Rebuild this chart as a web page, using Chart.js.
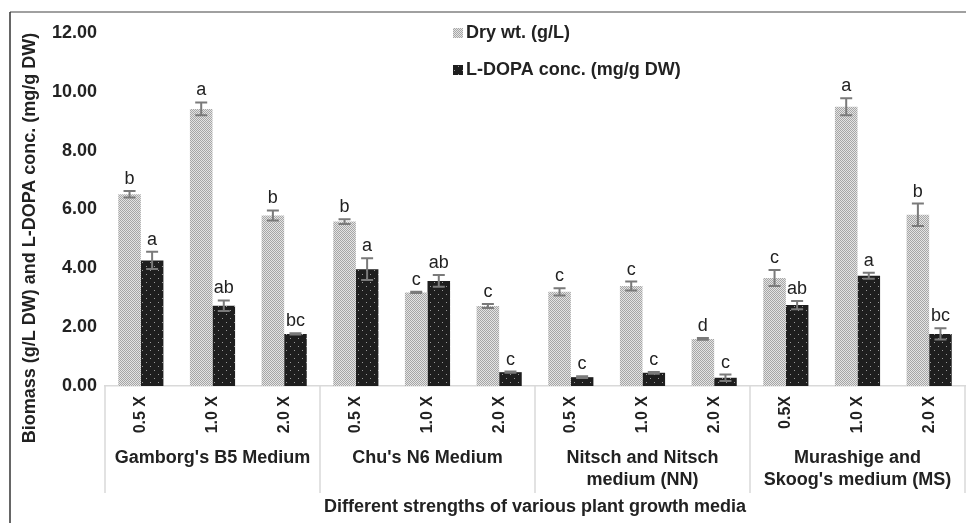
<!DOCTYPE html>
<html>
<head>
<meta charset="utf-8">
<script src="https://cdn.jsdelivr.net/npm/chart.js@4.4.1/dist/chart.umd.min.js"></script>
<style>
  body { margin: 0; background: #fff; }
  canvas { display: block; }
</style>
</head>
<body>
<canvas id="myChart" width="966" height="523"></canvas>
<script>
var strengths = ['0.5 X', '1.0 X', '2.0 X', '0.5 X', '1.0 X', '2.0 X', '0.5 X', '1.0 X', '2.0 X', '0.5X', '1.0 X', '2.0 X'];
var media = [["Gamborg's B5 Medium"], ["Chu's N6 Medium"], ['Nitsch and Nitsch', 'medium (NN)'], ['Murashige and', "Skoog's medium (MS)"]];

var dryWt = [6.52, 9.42, 5.80, 5.59, 3.18, 2.72, 3.20, 3.40, 1.60, 3.67, 9.49, 5.82];
var dryErr = [0.11, 0.22, 0.17, 0.08, 0.02, 0.07, 0.12, 0.15, 0.03, 0.27, 0.29, 0.38];
var dryLetters = ['b', 'a', 'b', 'b', 'c', 'c', 'c', 'c', 'd', 'c', 'a', 'b'];

var ldopa = [4.27, 2.73, 1.77, 3.97, 3.57, 0.47, 0.30, 0.45, 0.28, 2.75, 3.75, 1.77];
var ldopaErr = [0.29, 0.18, 0.02, 0.37, 0.20, 0.02, 0.03, 0.03, 0.11, 0.14, 0.10, 0.19];
var ldopaLetters = ['a', 'ab', 'bc', 'a', 'ab', 'c', 'c', 'c', 'c', 'ab', 'a', 'bc'];

var yTicks = [0, 2, 4, 6, 8, 10, 12];
var yTitle = 'Biomass (g/L DW) and L-DOPA conc. (mg/g DW)';
var xTitle = 'Different strengths of various plant growth media';

var FONT = "'Liberation Sans', Arial, sans-serif";

function dryPattern() {
  var c = document.createElement('canvas');
  c.width = 2; c.height = 2;
  var g = c.getContext('2d');
  g.fillStyle = '#e4e4e4'; g.fillRect(0, 0, 2, 2);
  g.fillStyle = '#a6a6a6'; g.fillRect(0, 0, 1, 1); g.fillRect(1, 1, 1, 1);
  return g.createPattern(c, 'repeat');
}

function dotPattern() {
  var c = document.createElement('canvas');
  c.width = 8; c.height = 8;
  var g = c.getContext('2d');
  g.fillStyle = '#1e1e1e'; g.fillRect(0, 0, 8, 8);
  g.fillStyle = '#9a9a9a'; g.fillRect(2, 2, 1, 1); g.fillRect(6, 6, 1, 1);
  return g.createPattern(c, 'repeat');
}

var decorations = {
  id: 'decorations',
  afterDraw: function(chart) {
    var ctx = chart.ctx, area = chart.chartArea, x = chart.scales.x;
    ctx.save();

    // outer frame (cut at bottom/right like the source image)
    ctx.strokeStyle = '#808080'; ctx.lineWidth = 1.5;
    ctx.beginPath(); ctx.moveTo(10, 12); ctx.lineTo(966, 12); ctx.stroke();
    ctx.strokeStyle = '#333'; 
    ctx.beginPath(); ctx.moveTo(10, 12); ctx.lineTo(10, 523); ctx.stroke();

    // group dividers and labels
    var step = (x.right - x.left) / strengths.length;
    ctx.strokeStyle = '#d9d9d9'; ctx.lineWidth = 1.5;
    for (var g = 0; g <= media.length; g++) {
      var gx = Math.round(x.left + g * 3 * step);
      ctx.beginPath(); ctx.moveTo(gx, area.bottom); ctx.lineTo(gx, area.bottom + 107); ctx.stroke();
    }
    ctx.fillStyle = '#222';
    ctx.font = 'bold 18px ' + FONT;
    ctx.textAlign = 'center'; ctx.textBaseline = 'middle';
    media.forEach(function(lines, g) {
      var cx = (x.getPixelForValue(g * 3) + x.getPixelForValue(g * 3 + 2)) / 2;
      lines.forEach(function(t, k) {
        ctx.fillText(t, cx, area.bottom + 72 + k * 22);
      });
    });

    // axis titles
    ctx.fillText(xTitle, (area.left + area.right) / 2, 507);
    ctx.save();
    ctx.translate(30, 238);
    ctx.rotate(-Math.PI / 2);
    ctx.fillText(yTitle, 0, 0);
    ctx.restore();

    // legend
    ctx.textAlign = 'left';
    chart.data.datasets.forEach(function(ds, i) {
      var ly = 33 + i * 37;
      ctx.fillStyle = ds.backgroundColor;
      ctx.fillRect(453, ly - 5, 10, 10);
      ctx.fillStyle = '#222';
      ctx.fillText(ds.label, 466, ly);
    });
    ctx.restore();
  }
};

var errorBars = {
  id: 'errorBars',
  afterDatasetsDraw: function(chart) {
    var ctx = chart.ctx, y = chart.scales.y;
    ctx.save();
    chart.data.datasets.forEach(function(ds, d) {
      var meta = chart.getDatasetMeta(d);
      meta.data.forEach(function(bar, i) {
        var v = ds.data[i], e = ds.errors[i];
        var top = y.getPixelForValue(v + e), bot = y.getPixelForValue(v - e);
        ctx.strokeStyle = '#7a7a7a'; ctx.lineWidth = 2;
        ctx.beginPath();
        ctx.moveTo(bar.x, top); ctx.lineTo(bar.x, bot);
        ctx.moveTo(bar.x - 6, top); ctx.lineTo(bar.x + 6, top);
        ctx.moveTo(bar.x - 6, bot); ctx.lineTo(bar.x + 6, bot);
        ctx.stroke();
        ctx.fillStyle = '#222';
        ctx.font = '18px ' + FONT;
        ctx.textAlign = 'center'; ctx.textBaseline = 'alphabetic';
        ctx.fillText(ds.letters[i], bar.x, top - 7);
      });
    });
    ctx.restore();
  }
};

var ctx = document.getElementById('myChart').getContext('2d');
var myChart = new Chart(ctx, {
  type: 'bar',
  data: {
    labels: strengths,
    datasets: [{
      label: 'Dry wt. (g/L)',
      data: dryWt,
      errors: dryErr,
      letters: dryLetters,
      backgroundColor: dryPattern(),
      borderWidth: 0
    },
    {
      label: 'L-DOPA conc. (mg/g DW)',
      data: ldopa,
      errors: ldopaErr,
      letters: ldopaLetters,
      backgroundColor: dotPattern(),
      borderWidth: 0
    }]
  },
  options: {
    responsive: false,
    animation: false,
    categoryPercentage: 0.63,
    barPercentage: 1,
    layout: { padding: { top: 33, right: 1, bottom: 0, left: 0 } },
    plugins: {
      legend: { display: false },
      tooltip: { enabled: false }
    },
    scales: {
      x: {
        grid: { display: false, drawTicks: false },
        border: { display: true, color: '#d9d9d9', width: 1.5 },
        ticks: {
          autoSkip: false,
          maxRotation: 90,
          minRotation: 90,
          padding: 10,
          color: '#222',
          font: { family: FONT, size: 16, weight: 'bold' }
        },
        afterFit: function(scale) { scale.height = 137; }
      },
      y: {
        min: 0,
        max: 12,
        grid: { display: false, drawTicks: false },
        border: { display: false },
        afterBuildTicks: function(scale) {
          scale.ticks = yTicks.map(function(v) { return { value: v }; });
        },
        ticks: {
          padding: 8,
          color: '#222',
          font: { family: FONT, size: 18, weight: 'bold' },
          callback: function(v) { return Number(v).toFixed(2); }
        },
        afterFit: function(scale) { scale.width = 105; }
      }
    }
  },
  plugins: [errorBars, decorations]
});
</script>
</body>
</html>
